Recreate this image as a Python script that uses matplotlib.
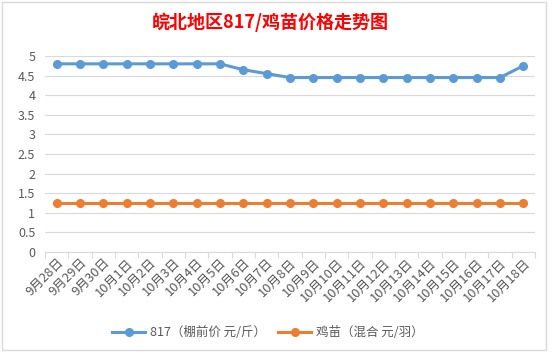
import matplotlib

matplotlib.use("Agg")

import matplotlib.pyplot as plt
from matplotlib.patches import Rectangle

plt.rcParams["font.family"] = ["Noto Sans CJK SC", "DejaVu Sans"]

dates = ["9月28日", "9月29日", "9月30日"] + [f"10月{d}日" for d in range(1, 19)]
price_817 = [4.8, 4.8, 4.8, 4.8, 4.8, 4.8, 4.8, 4.8, 4.65, 4.55,
             4.45, 4.45, 4.45, 4.45, 4.45, 4.45, 4.45, 4.45, 4.45, 4.45, 4.75]
price_chick = [1.25] * 21
y_ticks = [0, 0.5, 1, 1.5, 2, 2.5, 3, 3.5, 4, 4.5, 5]

blue = "#5B9BD5"
orange = "#ED7D31"
grey = "#595959"

fig = plt.figure(figsize=(5.53, 3.58), dpi=100)
ax = fig.add_axes([45 / 553, 1 - 252 / 358, 490 / 553, 196 / 358])

x = list(range(len(dates)))
ax.plot(x, price_817, color=blue, lw=2.2, marker="o", ms=5.5,
        label="817（棚前价 元/斤）")
ax.plot(x, price_chick, color=orange, lw=2.2, marker="o", ms=5.5,
        label="鸡苗（混合 元/羽）")

ax.set_xlim(-0.5, len(dates) - 0.5)
ax.set_ylim(0, 5)
ax.set_yticks(y_ticks)
ax.set_yticklabels([f"{v:g}" for v in y_ticks], color=grey, fontsize=9)
ax.tick_params(axis="y", length=0, pad=7)

ax.set_xticks(x)
ax.set_xticklabels(dates, rotation=45, ha="right", va="top",
                   rotation_mode="anchor", color=grey, fontsize=9.3)
ax.tick_params(axis="x", length=0, pad=3)
ax.set_xticks([i - 0.5 for i in range(len(dates) + 1)], minor=True)
ax.tick_params(axis="x", which="minor", length=4, color="#D9D9D9", width=0.8)

ax.grid(axis="y", color="#D9D9D9", lw=0.8)
ax.set_axisbelow(True)
for s in ["top", "right", "left"]:
    ax.spines[s].set_visible(False)
ax.spines["bottom"].set_color("#D9D9D9")

fig.text(270 / 553, 1 - 22 / 358, "皖北地区817/鸡苗价格走势图", color="#FF0000",
         fontsize=13, fontweight="bold", ha="center", va="center")

leg = ax.legend(loc="center", bbox_to_anchor=(268 / 553, 1 - 333 / 358),
                bbox_transform=fig.transFigure, ncol=2, frameon=False,
                fontsize=9, handlelength=2.6, handletextpad=0.4,
                columnspacing=1.0)
for t in leg.get_texts():
    t.set_color(grey)

fig.patches.append(Rectangle((2 / 553, 1 - 350 / 358), 544 / 553, 348 / 358,
                             transform=fig.transFigure, fill=False,
                             edgecolor="#D9D9D9", lw=1))

fig.savefig("out.png", dpi=100)
